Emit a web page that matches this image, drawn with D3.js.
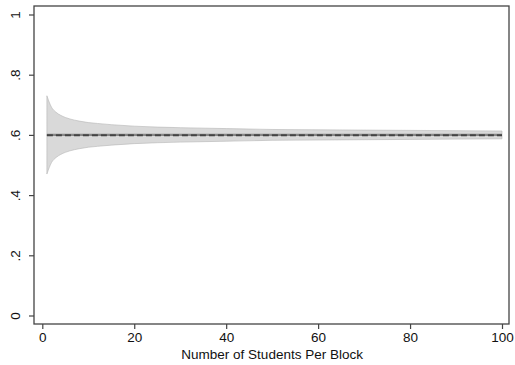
<!DOCTYPE html>
<html>
<head>
<meta charset="utf-8">
<script src="https://cdn.jsdelivr.net/npm/d3@7"></script>
<style>
  body { margin: 0; background: #fff; }
  svg { display: block; font-family: "Liberation Sans", Arial, sans-serif; }
</style>
</head>
<body>
<script>

// data

const blockSizes = [1, 2, 3, 4, 5, 6, 8, 10, 12, 15, 20, 25, 30, 40, 50, 60, 70, 80, 90, 100];
const upperBound = [0.73, 0.692, 0.675, 0.665, 0.658, 0.653, 0.646, 0.641, 0.638, 0.634, 0.629, 0.626, 0.624, 0.621, 0.618, 0.617, 0.616, 0.615, 0.614, 0.613];
const lowerBound = [0.47, 0.508, 0.525, 0.535, 0.542, 0.547, 0.554, 0.559, 0.562, 0.566, 0.571, 0.574, 0.576, 0.579, 0.582, 0.583, 0.584, 0.585, 0.586, 0.587];

const lineX = [1, 100];
const meanLine = [0.6, 0.6];
const dashLine = [0.599, 0.599];

const xTicks = [0, 20, 40, 60, 80, 100];
const yTicks = [0, 0.2, 0.4, 0.6, 0.8, 1];
const yTickLabels = ['0', '.2', '.4', '.6', '.8', '1'];
const xTitle = 'Number of Students Per Block';

const w = 515;
const h = 365;

// frame
const box = { left: 34, right: 509, top: 6, bottom: 324 };

const svg = d3.select('body').append('svg').attr('width', w).attr('height', h);

const xScale = d3.scaleLinear().domain([0, 100]).range([42.3, 502]);
const yScale = d3.scaleLinear().domain([0, 1]).range([315.5, 14.5]);

// band
const band = blockSizes.map((n, i) => ({ n: n, hi: upperBound[i], lo: lowerBound[i] }));

const area = d3.area()
    .x(d => xScale(d.n))
    .y0(d => yScale(d.lo))
    .y1(d => yScale(d.hi))
    .curve(d3.curveMonotoneX);

svg.append('path')
    .datum(band)
    .attr('d', area)
    .attr('fill', '#d9d9d9')
    .attr('stroke', '#b5b5b5')
    .attr('stroke-width', 0.6);

// lines
const line = d3.line().x(d => xScale(d[0])).y(d => yScale(d[1]));

svg.append('path')
    .datum(lineX.map((x, i) => [x, meanLine[i]]))
    .attr('d', line)
    .attr('stroke', '#888')
    .attr('stroke-width', 2.4)
    .attr('fill', 'none');

svg.append('path')
    .datum(lineX.map((x, i) => [x, dashLine[i]]))
    .attr('d', line)
    .attr('stroke', '#444')
    .attr('stroke-width', 2)
    .attr('stroke-dasharray', '6,3')
    .attr('fill', 'none');

// frame box
svg.append('rect')
    .attr('x', box.left)
    .attr('y', box.top)
    .attr('width', box.right - box.left)
    .attr('height', box.bottom - box.top)
    .attr('fill', 'none')
    .attr('stroke', '#444')
    .attr('stroke-width', 1.3);

// axes
const xAxis = d3.axisBottom(xScale).tickValues(xTicks).tickSize(5).tickPadding(3).tickFormat(d3.format('d'));

const gx = svg.append('g').attr('transform', `translate(0,${box.bottom})`).call(xAxis);
gx.select('.domain').remove();
gx.selectAll('line').attr('stroke', '#444').attr('stroke-width', 1.2);
gx.selectAll('text').attr('font-size', 13.5).attr('fill', '#111').attr('font-family', '"Liberation Sans", Arial, sans-serif');

const yAxis = d3.axisLeft(yScale).tickValues(yTicks).tickSize(5).tickFormat((d, i) => yTickLabels[i]);

const gy = svg.append('g').attr('transform', `translate(${box.left},0)`).call(yAxis);
gy.select('.domain').remove();
gy.selectAll('line').attr('stroke', '#444').attr('stroke-width', 1.2);
gy.selectAll('text')
    .attr('font-size', 13.5)
    .attr('fill', '#111')
    .attr('font-family', '"Liberation Sans", Arial, sans-serif')
    .attr('x', 0)
    .attr('dy', 0)
    .attr('text-anchor', 'middle')
    .attr('transform', 'translate(-14,0) rotate(-90)');

// axis title
svg.append('text')
    .attr('x', xScale(50))
    .attr('y', 359)
    .attr('text-anchor', 'middle')
    .attr('font-size', 13.5)
    .attr('fill', '#111')
    .text(xTitle);

</script>
</body>
</html>
